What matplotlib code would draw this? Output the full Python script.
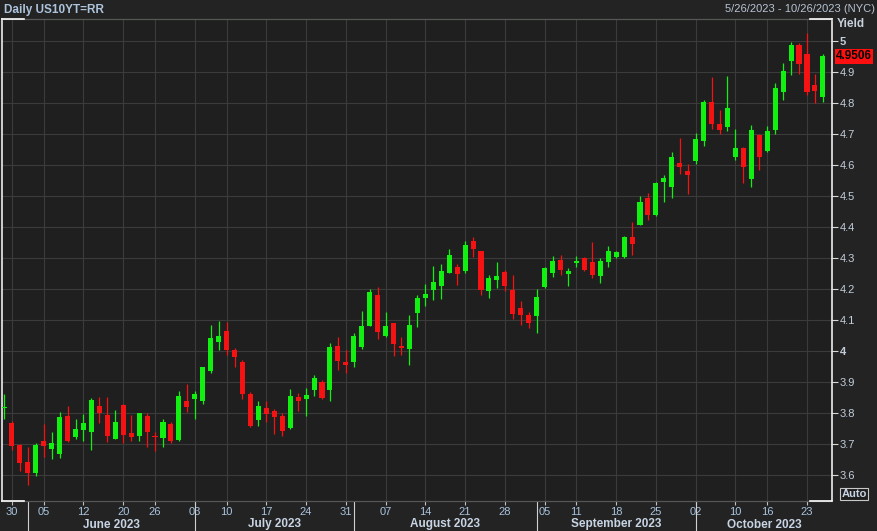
import matplotlib
matplotlib.use('Agg')
import matplotlib.pyplot as plt
import matplotlib.transforms as mtransforms
import numpy as np
import pandas as pd

plt.rcParams['font.family'] = ['Liberation Sans', 'DejaVu Sans']

# trading days (bond market holidays removed)
holidays = ['2023-05-29', '2023-06-19', '2023-07-04', '2023-09-04', '2023-10-09']
dates = pd.bdate_range('2023-05-26', '2023-10-25')
dates = dates[~dates.isin(pd.to_datetime(holidays))]

opens = [3.815, 3.769, 3.697, 3.643, 3.607, 3.710, 3.684, 3.669, 3.790, 3.724,
         3.745, 3.740, 3.823, 3.795, 3.717, 3.827, 3.735, 3.727, 3.790, 3.723,
         3.720, 3.765, 3.713, 3.840, 3.844, 3.840, 3.934, 4.030, 4.065, 4.003,
         3.965, 3.861, 3.777, 3.816, 3.805, 3.790, 3.752, 3.852, 3.845, 3.874,
         3.901, 3.874, 4.016, 3.965, 3.965, 4.014, 4.081, 4.181, 4.048, 4.089,
         4.013, 4.006, 4.124, 4.172, 4.197, 4.211, 4.253, 4.272, 4.259, 4.356,
         4.321, 4.195, 4.229, 4.256, 4.197, 4.140, 4.116, 4.114, 4.205, 4.253,
         4.294, 4.248, 4.284, 4.300, 4.287, 4.242, 4.287, 4.303, 4.302, 4.368,
         4.407, 4.492, 4.439, 4.546, 4.530, 4.605, 4.581, 4.613, 4.677, 4.804,
         4.732, 4.722, 4.627, 4.656, 4.555, 4.697, 4.646, 4.713, 4.837, 4.935,
         4.987, 4.958, 4.858, 4.820]
highs = [3.861, 3.775, 3.700, 3.691, 3.704, 3.764, 3.740, 3.803, 3.824, 3.780,
         3.798, 3.849, 3.853, 3.851, 3.810, 3.829, 3.794, 3.801, 3.799, 3.740,
         3.780, 3.772, 3.872, 3.894, 3.872, 3.947, 4.084, 4.097, 4.094, 4.009,
         3.971, 3.867, 3.840, 3.840, 3.812, 3.799, 3.877, 3.864, 3.880, 3.922,
         3.906, 4.027, 4.044, 4.003, 4.057, 4.129, 4.200, 4.207, 4.126, 4.089,
         4.044, 4.116, 4.181, 4.216, 4.274, 4.282, 4.329, 4.282, 4.356, 4.369,
         4.323, 4.245, 4.288, 4.261, 4.245, 4.162, 4.125, 4.200, 4.272, 4.306,
         4.310, 4.269, 4.306, 4.302, 4.353, 4.299, 4.339, 4.321, 4.371, 4.415,
         4.500, 4.509, 4.546, 4.568, 4.641, 4.688, 4.603, 4.702, 4.810, 4.885,
         4.777, 4.887, 4.716, 4.658, 4.729, 4.699, 4.726, 4.864, 4.930, 4.998,
         4.995, 5.025, 4.893, 4.957]
lows = [3.781, 3.681, 3.614, 3.568, 3.597, 3.657, 3.652, 3.656, 3.706, 3.717,
        3.710, 3.681, 3.769, 3.706, 3.715, 3.702, 3.710, 3.711, 3.691, 3.677,
        3.691, 3.702, 3.710, 3.803, 3.780, 3.830, 3.930, 4.003, 3.987, 3.949,
        3.844, 3.755, 3.758, 3.772, 3.732, 3.726, 3.747, 3.806, 3.790, 3.855,
        3.845, 3.839, 3.939, 3.928, 3.949, 4.007, 4.081, 4.038, 4.044, 3.985,
        3.987, 3.955, 4.078, 4.146, 4.165, 4.168, 4.251, 4.213, 4.251, 4.303,
        4.181, 4.172, 4.204, 4.195, 4.103, 4.084, 4.075, 4.059, 4.202, 4.238,
        4.245, 4.210, 4.270, 4.259, 4.234, 4.220, 4.271, 4.301, 4.300, 4.310,
        4.405, 4.423, 4.437, 4.482, 4.493, 4.570, 4.506, 4.602, 4.662, 4.715,
        4.700, 4.711, 4.616, 4.543, 4.530, 4.584, 4.643, 4.700, 4.810, 4.890,
        4.893, 4.826, 4.799, 4.804]
closes = [3.820, 3.694, 3.638, 3.607, 3.697, 3.695, 3.704, 3.787, 3.710, 3.747,
          3.768, 3.842, 3.799, 3.727, 3.770, 3.728, 3.724, 3.801, 3.740, 3.721,
          3.772, 3.710, 3.856, 3.820, 3.861, 3.947, 4.042, 4.048, 4.004, 3.982,
          3.862, 3.758, 3.823, 3.797, 3.788, 3.742, 3.855, 3.839, 3.858, 3.913,
          3.847, 4.014, 3.969, 3.955, 4.048, 4.081, 4.191, 4.062, 4.081, 4.023,
          4.011, 4.084, 4.172, 4.185, 4.223, 4.258, 4.311, 4.249, 4.342, 4.328,
          4.197, 4.237, 4.243, 4.211, 4.119, 4.116, 4.091, 4.173, 4.267, 4.290,
          4.261, 4.258, 4.290, 4.261, 4.245, 4.290, 4.323, 4.319, 4.369, 4.346,
          4.481, 4.439, 4.543, 4.557, 4.625, 4.595, 4.568, 4.684, 4.804, 4.732,
          4.713, 4.783, 4.656, 4.595, 4.713, 4.627, 4.710, 4.849, 4.903, 4.987,
          4.925, 4.837, 4.840, 4.9506]

tick_days = ['2023-05-30', '2023-06-05', '2023-06-12', '2023-06-20', '2023-06-26',
             '2023-07-03', '2023-07-10', '2023-07-17', '2023-07-24', '2023-07-31',
             '2023-08-07', '2023-08-14', '2023-08-21', '2023-08-28', '2023-09-05',
             '2023-09-11', '2023-09-18', '2023-09-25', '2023-10-02', '2023-10-10',
             '2023-10-16', '2023-10-23']
month_names = ['June 2023', 'July 2023', 'August 2023', 'September 2023', 'October 2023']
y_ticks = [3.6, 3.7, 3.8, 3.9, 4.0, 4.1, 4.2, 4.3, 4.4, 4.5, 4.6, 4.7, 4.8, 4.9, 5.0]

GREEN = '#12f012'
RED = '#f51212'
TXT = '#c3cedc'

W, H = 877, 531
fx = lambda px: px / W
fy = lambda py: 1 - py / H

fig = plt.figure(figsize=(W / 100, H / 100), dpi=100, facecolor='#222322')
ax = fig.add_axes([fx(2), fy(501), 830 / W, 482 / H], facecolor='#1e1f1e')

o = np.array(opens)
h = np.array(highs)
l = np.array(lows)
c = np.array(closes)
x = np.arange(len(dates))
cols = np.where(c >= o, GREEN, RED)

# wicks and bodies
ax.vlines(x, l, h, colors=cols, linewidth=0.9, zorder=3)
body_low = np.minimum(o, c)
body_h = np.maximum(np.abs(c - o), 0.0035)
ax.bar(x, body_h, bottom=body_low, width=0.64, color=cols, linewidth=0, zorder=4)

ax.set_xlim(-0.25, 104.15)
ax.set_ylim(3.516, 5.071)

# ticks and grid
tick_idx = [dates.get_loc(pd.Timestamp(d)) for d in tick_days]
ax.set_xticks(tick_idx)
ax.set_xticklabels([pd.Timestamp(d).strftime('%d') for d in tick_days])
ax.set_yticks(y_ticks)
ax.set_yticklabels([f'{v:g}' for v in y_ticks])
ax.yaxis.tick_right()
ax.grid(color='#3a3b3a', linewidth=0.8, zorder=0)
ax.set_axisbelow(True)
ax.tick_params(axis='y', direction='out', length=4.3, width=0.8, color='#d8d8d8',
               labelcolor=TXT, labelsize=8, pad=1.5)
ax.tick_params(axis='x', direction='out', length=3, width=0.8, color='#c0c0c0',
               labelcolor='#a9c3df', labelsize=8, pad=1.5)
for lab, v in zip(ax.get_yticklabels(), y_ticks):
    if float(v).is_integer():
        lab.set_fontweight('bold')

# frame
for side in ['left', 'right']:
    ax.spines[side].set_color('white')
    ax.spines[side].set_linewidth(1.1)
for side in ['top', 'bottom']:
    ax.spines[side].set_color('#555755')
    ax.spines[side].set_linewidth(0.9)
seg = 22 / 830
for xs in ([0, seg], [1 - seg, 1]):
    for ys in (0, 1):
        ax.plot(xs, [ys, ys], transform=ax.transAxes, color='white', lw=1.2,
                clip_on=False, zorder=6)

# month separators and labels
trans = mtransforms.blended_transform_factory(ax.transData, fig.transFigure)
firsts = [int(np.argmax(dates.month == m)) for m in range(6, 11)]
for i in firsts:
    ax.plot([i, i], [fy(502), 0], transform=trans, color='#d0d0d0', lw=0.8, clip_on=False)
bounds = firsts + [ax.get_xlim()[1]]
for k, name in enumerate(month_names):
    ax.text((bounds[k] + bounds[k + 1]) / 2, fy(524.5), name, transform=trans,
            ha='center', va='center', fontsize=8.5, fontweight='bold', color='#c8d4e4')

# header texts
fig.text(fx(4), fy(9.5), 'Daily US10YT=RR', ha='left', va='center', fontsize=8.5,
         fontweight='bold', color='#adc3dc')
fig.text(fx(875), fy(9.5), '5/26/2023 - 10/26/2023 (NYC)', ha='right', va='center',
         fontsize=8, color='#b8c4d4')
fig.text(fx(837), fy(24), 'Yield', ha='left', va='center', fontsize=8.5,
         fontweight='bold', color='#c8d0dc')

# last value label
ptrans = mtransforms.blended_transform_factory(fig.transFigure, ax.transData)
ax.text(fx(836), closes[-1], f'{closes[-1]:.4f}', transform=ptrans, ha='left', va='center',
        fontsize=8.5, fontweight='bold', color='black', clip_on=False, zorder=7,
        bbox=dict(facecolor='#ff1010', edgecolor='none', boxstyle='square,pad=0.12'))

fig.text(fx(854), fy(494), 'Auto', ha='center', va='center', fontsize=8,
         fontweight='bold', color='#c8d4e4',
         bbox=dict(facecolor='#1e1e1e', edgecolor='#c8c8c8', boxstyle='square,pad=0.1', lw=0.8))

fig.savefig('out.png', dpi=100, facecolor=fig.get_facecolor())
